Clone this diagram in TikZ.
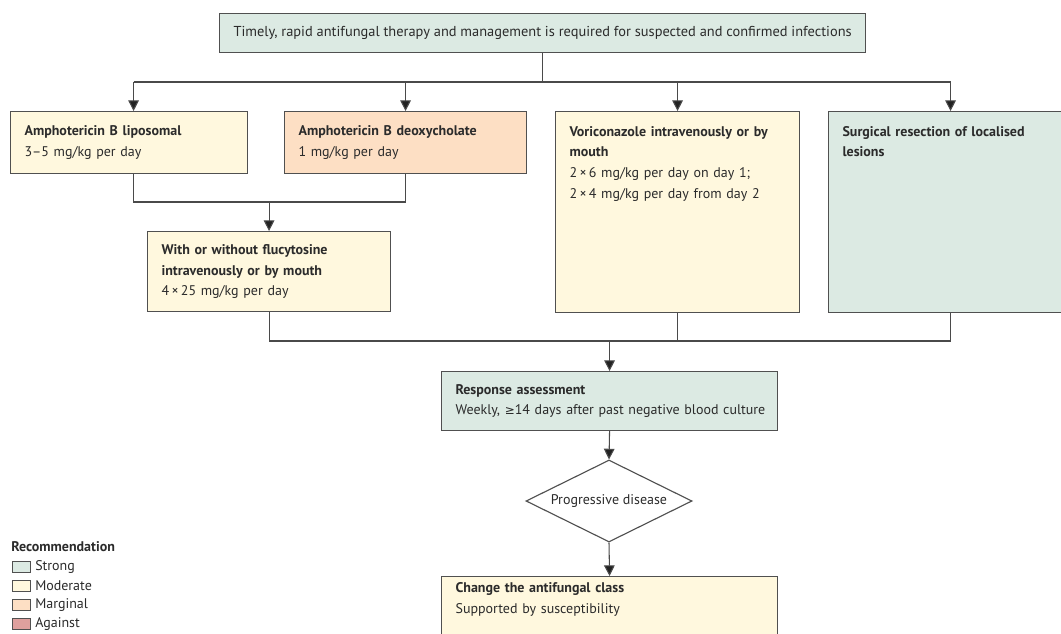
\documentclass[tikz,border=0pt]{standalone}
\usepackage{fontspec}
\setmainfont{PT Sans}
\newfontfamily\symbfont{DejaVu Sans}
\usetikzlibrary{arrows.meta,shapes.geometric}
\definecolor{strongc}{HTML}{DCEAE3}
\definecolor{moderatec}{HTML}{FFF8DE}
\definecolor{marginalc}{HTML}{FDDFC4}
\definecolor{againstc}{HTML}{DFA09E}
\definecolor{framec}{HTML}{505050}
\definecolor{linec}{HTML}{4A4A4A}
\definecolor{tipc}{HTML}{222222}
\definecolor{textc}{HTML}{2B2B2B}
\tikzset{
  box/.style={draw=framec, line width=0.85pt, rectangle, anchor=north west,
    align=left, inner xsep=10.5pt, inner ysep=0pt, text=textc,
    font=\fontsize{10.5}{15.5}\selectfont},
  tallbox/.style={box, text height=8pt, text depth=122pt, inner ysep=10.5pt},
  decision/.style={draw=framec, line width=0.85pt, diamond, inner sep=0pt,
    minimum width=124.5pt, minimum height=61.5pt, fill=white},
  line/.style={draw=linec, line width=0.8pt},
  arrow/.style={line, -{Triangle[width=8pt,length=8pt,fill=tipc]}},
  legbox/.style={draw=framec, line width=0.6pt, minimum width=13.5pt,
    minimum height=8.25pt, inner sep=0pt},
  legtext/.style={anchor=west, inner sep=0pt, text=textc,
    font=\fontsize{10.5}{12}\selectfont}
}
\begin{document}
\begin{tikzpicture}[x=0.75pt,y=-0.75pt]
\useasboundingbox[fill=white] (0,0) rectangle (1061,633);

% boxes
\node[box, fill=strongc, align=center, minimum width=483.75pt, minimum height=29.25pt,
  font=\fontsize{10.8}{13}\selectfont]
  (top) at (219,13) {Timely, rapid antifungal therapy and management is required for suspected and confirmed infections};
\node[box, fill=moderatec, text width=156.75pt, minimum height=46.5pt]
  (lipo) at (10,111) {\textbf{Amphotericin B liposomal}\\3--5 mg/kg per day};
\node[box, fill=marginalc, text width=160.5pt, minimum height=46.5pt]
  (deoxy) at (284,111) {\textbf{Amphotericin B deoxycholate}\\1 mg/kg per day};
\node[tallbox, fill=moderatec, text width=162pt]
  (vori) at (555,111) {\textbf{Voriconazole intravenously or by}\\\textbf{mouth}\\
  2\,×\,6 mg/kg per day on day 1;\\2\,×\,4 mg/kg per day from day 2};
\node[tallbox, fill=strongc, text width=162pt]
  (surg) at (828,111) {\textbf{Surgical resection of localised}\\\textbf{lesions}};
\node[box, fill=moderatec, text width=161.25pt, minimum height=60pt]
  (fluc) at (147,231) {\textbf{With or without flucytosine}\\\textbf{intravenously or by mouth}\\4\,×\,25 mg/kg per day};
\node[box, fill=strongc, text width=243pt, inner xsep=4.5pt, minimum height=44.25pt]
  (resp) at (441,371) {\hspace*{6pt}\textbf{Response assessment}\\\hspace*{6pt}Weekly, {\symbfont\fontsize{9}{15}\selectfont ≥}14 days after past negative blood culture};
\node[decision] (prog) at (609,501) {};
\node[text=textc, font=\fontsize{10.5}{12}\selectfont, inner sep=0pt] (progtxt) at (prog) {Progressive disease};
\node[box, fill=moderatec, text width=231pt, minimum height=52.5pt]
  (change) at (441,576) {\textbf{Change the antifungal class}\\Supported by susceptibility\\\strut};

% connectors
\coordinate (split) at (541,82);
\coordinate (join1) at (269,202);
\coordinate (join2) at (609,341);
\draw[line] (top.south) -- (top.south |- split);
\draw[line] ([xshift=3.4pt]lipo.north |- split) -- (surg.north |- split);
\draw[arrow] ([xshift=3.4pt]lipo.north |- split) -- ([xshift=3.4pt]lipo.north);
\foreach \n in {deoxy,vori,surg}
  \draw[arrow] (\n.north |- split) -- (\n.north);
\draw[line] ([xshift=3.4pt]lipo.south) -- ([xshift=3.4pt]lipo.south |- join1) -- (deoxy.south |- join1) -- (deoxy.south);
\draw[arrow] (fluc.north |- join1) -- (fluc.north);
\draw[line] (fluc.south) -- (fluc.south |- join2) -- (surg.south |- join2) -- (surg.south);
\draw[line] (vori.south) -- (vori.south |- join2);
\draw[arrow] (resp.north |- join2) -- (resp.north);
\draw[arrow] (resp.south) -- (prog.north);
\draw[arrow] (prog.south) -- (change.north);

% legend
\node[anchor=north west, inner sep=0pt, text=textc, font=\fontsize{10.5}{12}\selectfont\bfseries]
  (legtitle) at (11,541) {Recommendation};
\node[legbox, fill=strongc] (leg1) at (21,567) {};
\node[legbox, fill=moderatec] (leg2) at (21,586) {};
\node[legbox, fill=marginalc] (leg3) at (21,605) {};
\node[legbox, fill=againstc] (leg4) at (21,624) {};
\node[legtext] (leg1txt) at (35,567) {Strong};
\node[legtext] (leg2txt) at (35,586) {Moderate};
\node[legtext] (leg3txt) at (35,605) {Marginal};
\node[legtext] (leg4txt) at (35,624) {Against};
\end{tikzpicture}
\end{document}
